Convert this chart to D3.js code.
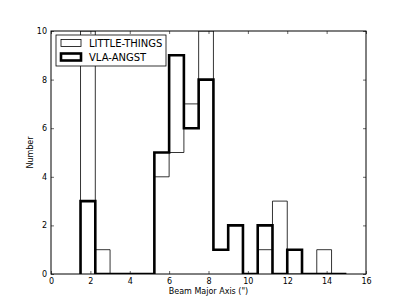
<!DOCTYPE html>
<html>
<head>
<meta charset="utf-8">
<script src="https://cdn.jsdelivr.net/npm/d3@7"></script>
<style>
  body { margin: 0; background: #fff; }
  text { font-family: "DejaVu Sans", sans-serif; }
</style>
</head>
<body>
<svg width="407" height="305"></svg>
<script>
// bin edges, 0.75" wide from 1.5 to 15
const binEdges = [1.5, 2.25, 3.0, 3.75, 4.5, 5.25, 6.0, 6.75, 7.5, 8.25, 9.0, 9.75, 10.5, 11.25, 12.0, 12.75, 13.5, 14.25, 15.0];
const littleThings = [10, 1, 0, 0, 0, 4, 5, 7, 10, 1, 2, 0, 1, 3, 0, 0, 1, 0];
const vlaAngst = [3, 0, 0, 0, 0, 5, 9, 6, 8, 1, 2, 0, 2, 0, 1, 0, 0, 0];
const xTicks = [0, 2, 4, 6, 8, 10, 12, 14, 16];
const yTicks = [0, 2, 4, 6, 8, 10];

const svg = d3.select("svg");
const margin = { top: 31, right: 41, bottom: 31, left: 51 };
const width = +svg.attr("width") - margin.left - margin.right;
const height = +svg.attr("height") - margin.top - margin.bottom;

const x = d3.scaleLinear().domain([0, 16]).range([0, width]);
const y = d3.scaleLinear().domain([0, 10]).range([height, 0]);

const g = svg.append("g")
  .attr("transform", `translate(${margin.left},${margin.top})`);

g.append("clipPath").attr("id", "clip")
  .append("rect").attr("width", width).attr("height", height);

function stepPath(counts) {
  const pts = [[binEdges[0], 0]];
  counts.forEach((c, i) => {
    pts.push([binEdges[i], c]);
    pts.push([binEdges[i + 1], c]);
  });
  pts.push([binEdges[binEdges.length - 1], 0]);
  return d3.line().x(d => x(d[0])).y(d => y(d[1]))(pts);
}

g.append("path")
  .attr("d", stepPath(littleThings))
  .attr("fill", "none")
  .attr("stroke", "#000")
  .attr("stroke-width", 0.8)
  .attr("clip-path", "url(#clip)");

g.append("path")
  .attr("d", stepPath(vlaAngst))
  .attr("fill", "none")
  .attr("stroke", "#000")
  .attr("stroke-width", 2.6)
  .attr("stroke-linejoin", "miter")
  .attr("clip-path", "url(#clip)");

// axes with inward ticks on all four sides
const tickLen = 3;
function styleAxis(sel) {
  sel.select(".domain").remove();
  sel.selectAll("line").attr("stroke", "#000").attr("stroke-width", 0.6);
  sel.selectAll("text").attr("font-size", 8).attr("fill", "#000");
}

g.append("g")
  .attr("transform", `translate(0,${height})`)
  .call(d3.axisBottom(x).tickValues(xTicks).tickSizeInner(-tickLen).tickSizeOuter(0).tickPadding(4))
  .call(styleAxis);

g.append("g")
  .call(d3.axisTop(x).tickValues(xTicks).tickSizeInner(-tickLen).tickSizeOuter(0).tickFormat(""))
  .call(styleAxis);

g.append("g")
  .call(d3.axisLeft(y).tickValues(yTicks).tickSizeInner(-tickLen).tickSizeOuter(0).tickPadding(4))
  .call(styleAxis);

g.append("g")
  .attr("transform", `translate(${width},0)`)
  .call(d3.axisRight(y).tickValues(yTicks).tickSizeInner(-tickLen).tickSizeOuter(0).tickFormat(""))
  .call(styleAxis);

g.append("rect")
  .attr("width", width)
  .attr("height", height)
  .attr("fill", "none")
  .attr("stroke", "#000")
  .attr("stroke-width", 1);

svg.append("text")
  .attr("x", margin.left + width / 2)
  .attr("y", 294)
  .attr("text-anchor", "middle")
  .attr("font-size", 8)
  .text("Beam Major Axis (\")");

svg.append("text")
  .attr("transform", `translate(33,${margin.top + height / 2}) rotate(-90)`)
  .attr("text-anchor", "middle")
  .attr("font-size", 8)
  .text("Number");

// legend
const legend = svg.append("g").attr("transform", "translate(56,35)");
legend.append("rect")
  .attr("width", 110).attr("height", 31)
  .attr("fill", "#fff").attr("stroke", "#000").attr("stroke-width", 0.8);

const entries = [
  { name: "LITTLE-THINGS", w: 0.8 },
  { name: "VLA-ANGST", w: 2.6 }
];
entries.forEach((e, i) => {
  const yy = 8 + i * 14;
  legend.append("rect")
    .attr("x", 5).attr("y", yy - 3.5)
    .attr("width", 20).attr("height", 7)
    .attr("fill", "#fff").attr("stroke", "#000").attr("stroke-width", e.w);
  legend.append("text")
    .attr("x", 33).attr("y", yy + 3.6)
    .attr("font-size", 10)
    .text(e.name);
});
</script>
</body>
</html>
